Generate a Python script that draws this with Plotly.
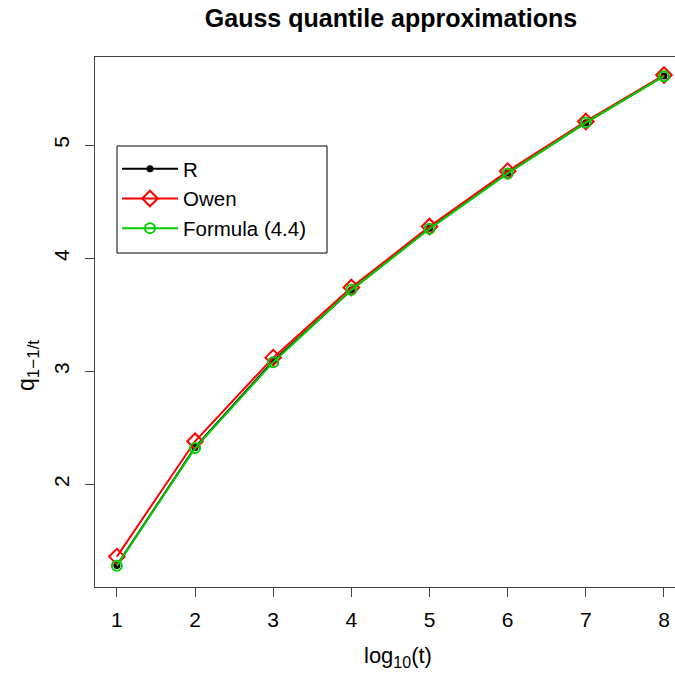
import plotly.graph_objects as go

log_t = [1, 2, 3, 4, 5, 6, 7, 8]
q_R = [1.282, 2.326, 3.090, 3.719, 4.265, 4.753, 5.199, 5.612]
q_owen = [1.36, 2.38, 3.12, 3.74, 4.28, 4.77, 5.21, 5.62]
q_formula = [1.28, 2.32, 3.08, 3.72, 4.26, 4.75, 5.20, 5.61]

x_ticks = [1, 2, 3, 4, 5, 6, 7, 8]
y_ticks = [2, 3, 4, 5]

W, H = 675, 675
L, R_, T, B = 95, 0, 57, 88
PW, PH = W - L - R_, H - T - B


def px_x(p):
    return (p - L) / PW


def px_y(p):
    return (H - B - p) / PH


fig = go.Figure()
fig.add_trace(go.Scatter(x=log_t, y=q_R, name="R", mode="lines+markers", legendgroup="a",
                         line=dict(color="black", width=2),
                         marker=dict(symbol="circle", size=7, color="black")))
fig.add_trace(go.Scatter(x=log_t, y=q_owen, name="Owen", mode="lines+markers", legendgroup="b",
                         line=dict(color="#ff0000", width=2),
                         marker=dict(symbol="diamond-open", size=12, color="#ff0000",
                                     line=dict(width=2, color="#ff0000"))))
fig.add_trace(go.Scatter(x=log_t, y=q_formula, name="Formula (4.4)", mode="lines+markers",
                         legendgroup="c",
                         line=dict(color="#00cc00", width=2),
                         marker=dict(symbol="circle-open", size=10, color="#00cc00",
                                     line=dict(width=2, color="#00cc00"))))

font_family = "Liberation Sans, Arial, sans-serif"
fig.update_layout(
    width=W, height=H,
    margin=dict(l=L, r=R_, t=T, b=B),
    paper_bgcolor="white", plot_bgcolor="white",
    font=dict(family=font_family, size=21, color="black"),
    title=dict(text="<b>Gauss quantile approximations</b>", x=391 / W, xanchor="center",
               y=1 - 18 / H, yanchor="middle", font=dict(size=25, family=font_family)),
    showlegend=True,
    legend=dict(x=px_x(117), y=px_y(149), xanchor="left", yanchor="top",
                borderwidth=0, bgcolor="rgba(0,0,0,0)",
                font=dict(size=20.5), itemwidth=56, tracegroupgap=0),
    shapes=[dict(type="rect", xref="paper", yref="paper",
                 x0=px_x(117), x1=px_x(327), y0=px_y(253), y1=px_y(146),
                 line=dict(color="black", width=1), fillcolor="rgba(0,0,0,0)",
                 layer="above")],
    annotations=[
        dict(text='log<sub><span style="font-size:16px">10</span></sub>(t)',
             xref="paper", yref="paper", x=px_x(398), y=px_y(657),
             xanchor="center", yanchor="middle", showarrow=False,
             font=dict(size=22, family=font_family)),
        dict(text='q<sub><span style="font-size:17px">1−1/t</span></sub>',
             xref="paper", yref="paper", x=px_x(28), y=px_y(366),
             xanchor="center", yanchor="middle", showarrow=False, textangle=-90,
             font=dict(size=23, family=font_family)),
    ],
)
fig.update_xaxes(range=[0.72, 8.141], tickvals=x_ticks, ticktext=[str(v) for v in x_ticks],
                 showgrid=False, zeroline=False, showline=True, linecolor="#444", linewidth=1,
                 mirror=True, ticks="outside", ticklen=9, tickcolor="#444",
                 ticklabelstandoff=5)
fig.update_yaxes(range=[1.091, 5.78], tickvals=y_ticks, ticktext=[str(v) for v in y_ticks],
                 showgrid=False, zeroline=False, showline=True, linecolor="#444", linewidth=1,
                 mirror=False, ticks="outside", ticklen=9, tickcolor="#444", tickangle=-90,
                 ticklabelstandoff=8)
fig.write_html("out.html", config={"displayModeBar": False},
               post_script="document.body.style.margin='0';")
